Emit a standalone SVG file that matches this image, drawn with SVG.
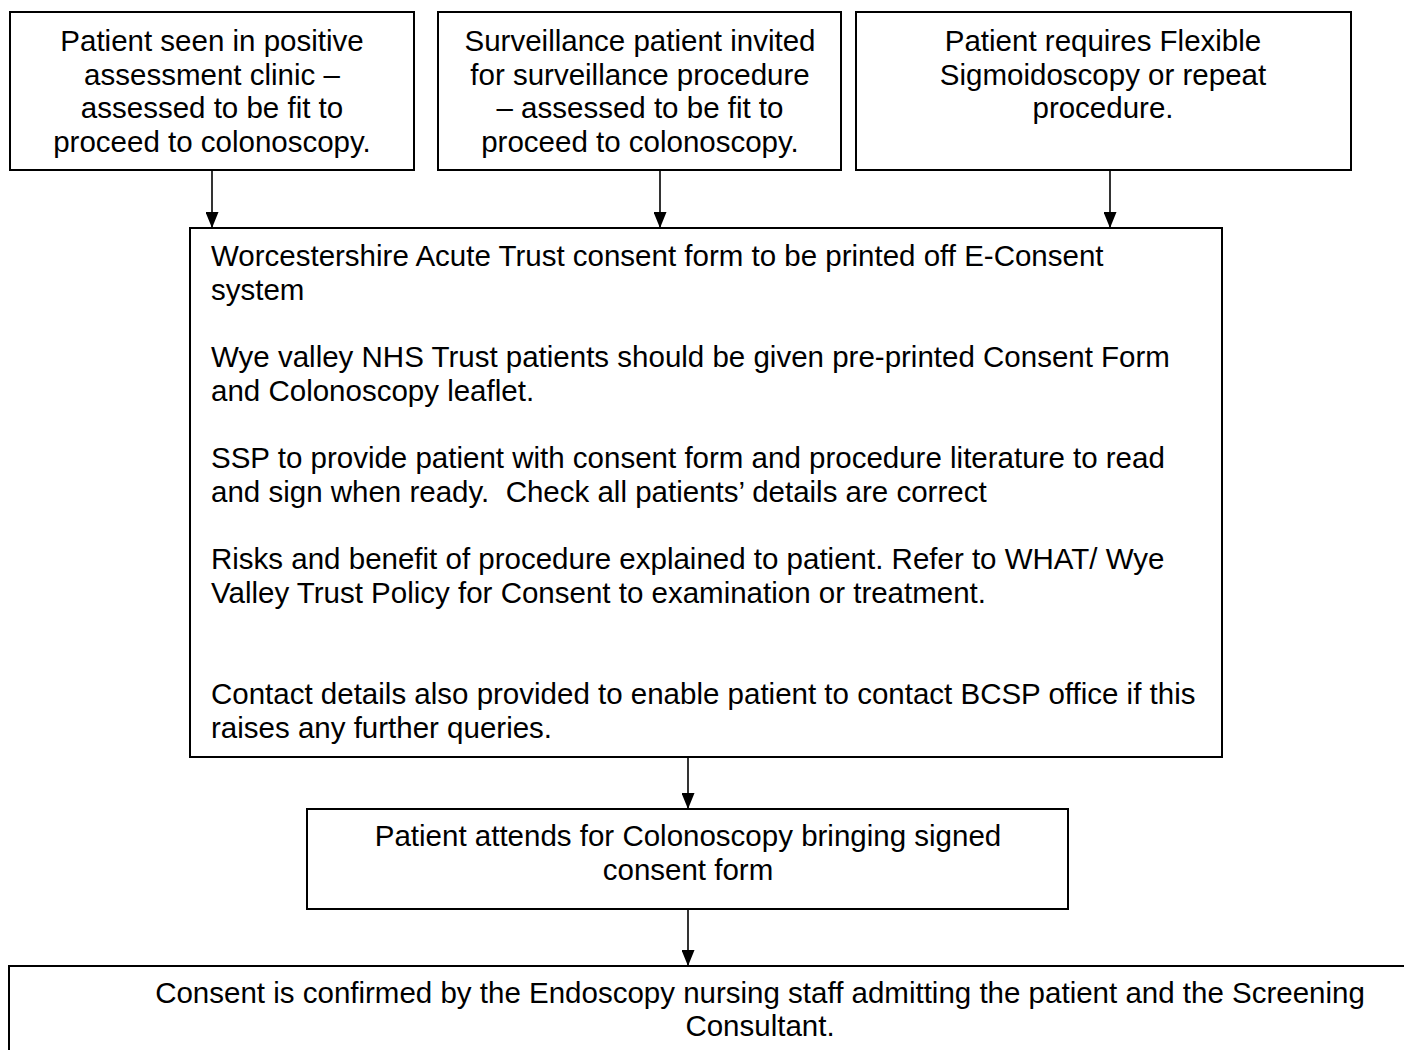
<svg xmlns="http://www.w3.org/2000/svg" width="1404" height="1050" viewBox="0 0 1404 1050">
<style>
.box{fill:#fff;stroke:#000;stroke-width:2}
.t{font-family:"Liberation Sans",Arial,sans-serif;font-size:29.5px;fill:#000}
.c{text-anchor:middle}
.conn{stroke:#000;stroke-width:1.6;fill:none}
</style>
<defs>
<marker id="ah" markerWidth="16" markerHeight="13" refX="16" refY="6.5" orient="auto" markerUnits="userSpaceOnUse">
<path d="M0,0 L16,6.5 L0,13 Z" fill="#000"/>
</marker>
</defs>
<rect width="1404" height="1050" fill="#fff"/>
<g id="connectors">
<line class="conn" x1="212" y1="170" x2="212" y2="228" marker-end="url(#ah)"/>
<line class="conn" x1="660" y1="170" x2="660" y2="228" marker-end="url(#ah)"/>
<line class="conn" x1="1110" y1="170" x2="1110" y2="228" marker-end="url(#ah)"/>
<line class="conn" x1="688" y1="757" x2="688" y2="809" marker-end="url(#ah)"/>
<line class="conn" x1="688" y1="909" x2="688" y2="966" marker-end="url(#ah)"/>
</g>
<g id="n1">
<rect class="box" x="10" y="12" width="404" height="158"/>
<text class="t c" x="212"><tspan x="212" y="51">Patient seen in positive</tspan><tspan x="212" y="85">assessment clinic –</tspan><tspan x="212" y="118">assessed to be fit to</tspan><tspan x="212" y="152">proceed to colonoscopy.</tspan></text>
</g>
<g id="n2">
<rect class="box" x="438" y="12" width="403" height="158"/>
<text class="t c" x="640"><tspan x="640" y="51">Surveillance patient invited</tspan><tspan x="640" y="85">for surveillance procedure</tspan><tspan x="640" y="118">– assessed to be fit to</tspan><tspan x="640" y="152">proceed to colonoscopy.</tspan></text>
</g>
<g id="n3">
<rect class="box" x="856" y="12" width="495" height="158"/>
<text class="t c" x="1103"><tspan x="1103" y="51">Patient requires Flexible</tspan><tspan x="1103" y="85">Sigmoidoscopy or repeat</tspan><tspan x="1103" y="118">procedure.</tspan></text>
</g>
<g id="n4">
<rect class="box" x="190" y="228" width="1032" height="529"/>
<text class="t"><tspan x="211" y="266">Worcestershire Acute Trust consent form to be printed off E-Consent</tspan><tspan x="211" y="300">system</tspan><tspan x="211" y="367">Wye valley NHS Trust patients should be given pre-printed Consent Form</tspan><tspan x="211" y="401">and Colonoscopy leaflet.</tspan><tspan x="211" y="468">SSP to provide patient with consent form and procedure literature to read</tspan><tspan x="211" y="502">and sign when ready. &#160;Check all patients’ details are correct</tspan><tspan x="211" y="569">Risks and benefit of procedure explained to patient. Refer to WHAT/ Wye</tspan><tspan x="211" y="603">Valley Trust Policy for Consent to examination or treatment.</tspan><tspan x="211" y="704">Contact details also provided to enable patient to contact BCSP office if this</tspan><tspan x="211" y="738">raises any further queries.</tspan></text>
</g>
<g id="n5">
<rect class="box" x="307" y="809" width="761" height="100"/>
<text class="t c"><tspan x="688" y="846">Patient attends for Colonoscopy bringing signed</tspan><tspan x="688" y="880">consent form</tspan></text>
</g>
<g id="n6">
<rect class="box" x="9" y="966" width="1500" height="200"/>
<text class="t c"><tspan x="760" y="1003">Consent is confirmed by the Endoscopy nursing staff admitting the patient and the Screening</tspan><tspan x="760" y="1036">Consultant.</tspan></text>
</g>
</svg>
